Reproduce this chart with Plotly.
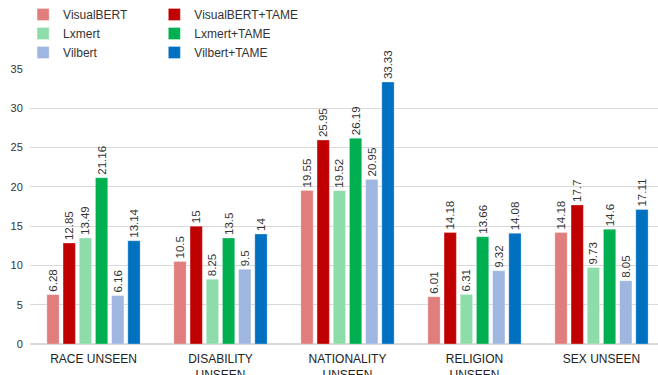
import plotly.graph_objects as go

categories = ["RACE UNSEEN", "DISABILITY<br>UNSEEN", "NATIONALITY<br>UNSEEN", "RELIGION<br>UNSEEN", "SEX UNSEEN"]
series_names = ["VisualBERT", "VisualBERT+TAME", "Lxmert", "Lxmert+TAME", "Vilbert", "Vilbert+TAME"]
visualbert = [6.28, 10.5, 19.55, 6.01, 14.18]
visualbert_tame = [12.85, 15, 25.95, 14.18, 17.7]
lxmert = [13.49, 8.25, 19.52, 6.31, 9.73]
lxmert_tame = [21.16, 13.5, 26.19, 13.66, 14.6]
vilbert = [6.16, 9.5, 20.95, 9.32, 8.05]
vilbert_tame = [13.14, 14, 33.33, 14.08, 17.11]
colors = ["#E07D7D", "#C00000", "#8EDCAA", "#00B050", "#9FB6E0", "#0070C0"]
y_ticks = [0, 5, 10, 15, 20, 25, 30, 35]

values = [visualbert, visualbert_tame, lxmert, lxmert_tame, vilbert, vilbert_tame]
legends = ["legend", "legend2", "legend", "legend2", "legend", "legend2"]

fig = go.Figure()
for name, vals, col, lg in zip(series_names, values, colors, legends):
    fig.add_trace(go.Bar(
        name=name, x=categories, y=vals,
        marker=dict(color=col, line=dict(color="rgba(255,255,255,0.5)", width=0.6)),
        text=[f"{v:g}" for v in vals], textposition="outside", textangle=-90,
        textfont=dict(size=11.5, color="#333333"),
        constraintext="none", cliponaxis=False, legend=lg,
    ))

font = "Liberation Sans, Arial, Helvetica, sans-serif"
fig.update_layout(
    width=658, height=375,
    margin=dict(l=30, r=0, t=69, b=31),
    paper_bgcolor="white", plot_bgcolor="white",
    font=dict(family=font, size=12, color="#222222"),
    barmode="group", bargap=0.235, bargroupgap=0.24,
    showlegend=True,
    legend=dict(x=-0.011, y=1.0, xanchor="left", yanchor="top", yref="container",
                font=dict(size=12, color="#333333"), bgcolor="rgba(0,0,0,0)",
                tracegroupgap=0, itemwidth=30),
    legend2=dict(x=0.198, y=1.0, xanchor="left", yanchor="top", yref="container",
                 font=dict(size=12, color="#333333"), bgcolor="rgba(0,0,0,0)",
                 tracegroupgap=0, itemwidth=30),
)
fig.update_xaxes(range=[-0.5, 4.445], showgrid=False, showline=False, ticks="",
                 ticklabelstandoff=6,
                 tickfont=dict(size=12, color="#222222"), automargin=False)
fig.update_yaxes(range=[0, 35], tickvals=y_ticks, showgrid=True, gridcolor="#D9D9D9",
                 gridwidth=1, zeroline=True, zerolinecolor="#D9D9D9", showline=False,
                 ticks="outside", ticklen=4, tickcolor="rgba(0,0,0,0)",
                 tickfont=dict(size=11, color="#333333"), automargin=False)

fig.write_html("out.html")
